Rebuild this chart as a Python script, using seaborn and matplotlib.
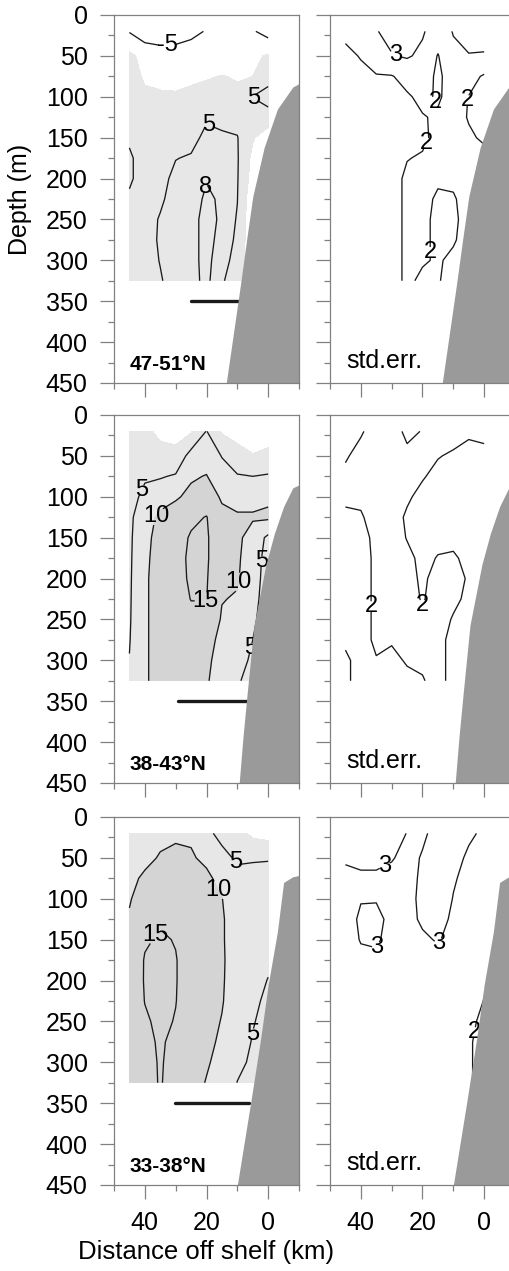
import numpy as np
import matplotlib
matplotlib.use("Agg")
import matplotlib.pyplot as plt
import seaborn as sns

sns.set_theme(style="white")
plt.rcParams["font.family"] = ["Liberation Sans", "DejaVu Sans"]
plt.rcParams["text.color"] = "black"
plt.rcParams["contour.negative_linestyle"] = "solid"

# ---------------- data ----------------
distance_km = [45, 40, 35, 30, 25, 20, 15, 10, 5, 0]
depth_m = [20, 50, 75, 100, 125, 150, 175, 200, 225, 250, 275, 300, 325]

# one list per distance column (45 km -> 0 km), values from 20 m down to 325 m
mean_47_51 = [
    [-5.3, 1, 2, 2.5, 3, 4.5, 5.5, 5.5, 4.5, 4, 3.5, 3, 3],
    [-8, -1.5, -0.6, 0.8, 2, 3, 3.5, 3.5, 4, 4, 4, 4, 4],
    [-9, -2, -1, 0.5, 2, 3, 3.5, 4, 4.6, 5.2, 5.3, 5.1, 4.8],
    [-9, -1.5, -0.8, 0.3, 2, 3.5, 4.9, 5.8, 6, 6, 6, 6, 6],
    [-7, -1, -0.5, 0.6, 3, 4, 5.3, 6, 6.5, 7, 7, 7, 7],
    [-4.5, -1.5, -0.2, 0.8, 4.6, 5.8, 7, 7.8, 8.6, 9, 9, 9, 8.8],
    [-3, -1.5, 0.1, 1, 3.5, 5.8, 6.5, 7, 7.5, 7.5, 7, 6, 5.3],
    [-3, -1, -0.2, 0.5, 3.5, 5.2, 5.4, 5.3, 5.1, 4.7, 4.3, 4, 3.5],
    [-4.5, -1, 0.0, 5.1, 3, 0.5, -1.2, -2, -3.5, -4, -4.3, -4.5, -4.5],
    [-7, 0.5, 3, 7, 3, -3, -6, -6, -4.5, -4, -4, -4, -4],
]
mean_38_43 = [
    [2, 2.5, 3, 3.5, 4, 4.2, 4.3, 4.4, 4.5, 4.6, 4.8, 5.1, 5.3],
    [1, 3, 4.5, 6, 8, 8.5, 8.8, 9, 9, 9, 9, 9, 9],
    [-1, 1.5, 4.6, 8, 11, 12, 12.5, 13, 13, 13, 13, 13, 13],
    [-1.5, 1.2, 5.5, 9.5, 12, 13, 13.5, 13.5, 13.5, 13.5, 13, 13, 13],
    [-0.5, 7, 9.5, 11, 14, 15.5, 15.8, 15.6, 15.1, 14, 13.5, 13, 12.5],
    [5.2, 8, 10.2, 12, 15.2, 15.5, 15.5, 15.3, 15.1, 14, 12, 11, 10.5],
    [-0.5, 4.8, 7, 9.5, 11, 12, 12, 11.5, 10.2, 9.5, 8.5, 8, 7.5],
    [-1, 1, 5.5, 8.5, 10.5, 11, 10.8, 10.5, 9.6, 8, 7, 6.5, 5.3],
    [-2, 0.2, 5, 8.5, 10.5, 8, 7, 6.5, 6, 5.5, 5, 4.3, 4],
    [-2, 1, 5.5, 9.2, 10.8, 4, 3.5, 3.5, 3.5, 3.5, 3.5, 3.5, 3.5],
]
mean_33_38 = [
    [5.5, 7, 8.5, 9.6, 10.5, 11, 11.5, 12, 12, 12, 12, 12, 12],
    [6, 8.5, 11, 12.5, 13.5, 14.5, 15.3, 15.3, 15.1, 14.5, 14, 13.5, 13.5],
    [8.5, 10.5, 12.5, 13.5, 14.5, 15.5, 16, 16, 16, 15.8, 15.5, 15.4, 15.3],
    [9.3, 11, 12.5, 13.5, 14, 14.8, 15.2, 15.2, 15.1, 14.8, 14, 13.5, 13.2],
    [9.3, 10.5, 12, 12.5, 13, 13, 13, 13, 13, 12.5, 12, 12, 11.5],
    [5.8, 9, 11, 12, 12, 12, 12, 12, 11.8, 11.5, 11, 10.4, 9.8],
    [4, 6, 8.5, 10.1, 10.4, 10.4, 10.5, 10.4, 10.3, 9.8, 9.3, 8.8, 8.5],
    [2, 4.5, 6, 7.5, 8, 8, 8, 8, 7.5, 7, 6.5, 6, 4.9],
    [-1.2, 4.7, 6, 7, 7, 7, 6.5, 6, 5.5, 5.2, 4.8, 4.3, 4],
    [-2, 4.8, 6, 6.5, 6.5, 6, 5.5, 4.9, 4.5, 4, 3.5, 3.5, 3.5],
]
stderr_47_51 = [
    [2.2, 1.8, 1.6, 1.5, 1.5, 1.5, 1.5, 1.5, 1.5, 1.5, 1.5, 1.5, 1.5],
    [2.6, 2.05, 1.8, 1.7, 1.6, 1.6, 1.6, 1.6, 1.6, 1.6, 1.6, 1.6, 1.6],
    [2.95, 2.4, 1.95, 1.7, 1.7, 1.7, 1.7, 1.7, 1.7, 1.7, 1.7, 1.7, 1.7],
    [3.3, 2.95, 1.95, 1.8, 1.8, 1.8, 1.8, 1.8, 1.8, 1.8, 1.8, 1.8, 1.8],
    [3.4, 3.1, 2.3, 1.9, 1.85, 1.85, 1.98, 2.1, 2.1, 2.1, 2.1, 2.1, 2.1],
    [3.1, 2.8, 2.5, 2.2, 1.95, 1.9, 2.05, 2.2, 2.2, 2.15, 2.1, 2.05, 1.9],
    [2.5, 1.95, 1.8, 1.9, 2.1, 2.15, 2.2, 2.1, 1.9, 1.85, 1.9, 1.95, 1.98],
    [3.05, 2.8, 2.5, 2.3, 2.3, 2.3, 2.2, 2.1, 1.95, 1.9, 1.95, 2.1, 2.1],
    [3.4, 2.95, 2.3, 1.98, 1.95, 2.1, 2.2, 2.2, 2.2, 2.2, 2.2, 2.2, 2.2],
    [3.5, 2.9, 1.9, 1.6, 1.6, 1.9, 2.2, 2.2, 2.2, 2.2, 2.2, 2.2, 2.2],
]
stderr_38_43 = [
    [1.8, 1.95, 2.1, 2.1, 1.9, 1.8, 1.8, 1.8, 1.8, 1.8, 1.9, 2.1, 2.1],
    [1.95, 2.15, 2.2, 2.1, 1.95, 1.8, 1.8, 1.8, 1.8, 1.8, 1.8, 1.8, 1.8],
    [2.2, 2.3, 2.3, 2.3, 2.2, 2.15, 2.1, 2.1, 2.1, 2.1, 2.1, 1.97, 1.9],
    [2.2, 2.3, 2.3, 2.25, 2.15, 2.2, 2.2, 2.2, 2.2, 2.15, 2.02, 1.95, 1.9],
    [1.9, 2.1, 2.15, 2.05, 1.95, 1.98, 2.1, 2.1, 2.1, 2.1, 2.05, 2.02, 1.95],
    [2.02, 2.1, 2.03, 1.9, 1.85, 1.85, 1.9, 1.95, 1.98, 2.05, 2.1, 2.05, 1.98],
    [2.2, 2.02, 1.9, 1.85, 1.85, 1.9, 2.02, 2.1, 2.1, 2.1, 2.1, 2.1, 2.1],
    [2.15, 1.95, 1.85, 1.85, 1.85, 1.9, 2.05, 2.1, 2.05, 1.98, 1.9, 1.9, 1.9],
    [2.05, 1.9, 1.85, 1.85, 1.85, 1.85, 1.9, 1.97, 1.95, 1.9, 1.9, 1.9, 1.9],
    [2.1, 1.9, 1.85, 1.85, 1.85, 1.85, 1.9, 1.9, 1.9, 1.9, 1.9, 1.9, 1.9],
]
stderr_33_38 = [
    [3.3, 3.1, 2.8, 2.7, 2.6, 2.6, 2.5, 2.5, 2.5, 2.5, 2.5, 2.5, 2.5],
    [3.4, 3.15, 2.9, 2.95, 3.15, 3.05, 2.8, 2.6, 2.6, 2.6, 2.6, 2.6, 2.6],
    [3.4, 3.15, 2.9, 2.95, 3.2, 3.1, 2.85, 2.6, 2.6, 2.6, 2.6, 2.6, 2.6],
    [3.3, 3.05, 2.8, 2.7, 2.8, 2.75, 2.7, 2.6, 2.6, 2.6, 2.6, 2.6, 2.6],
    [2.98, 2.8, 2.8, 2.8, 2.8, 2.75, 2.7, 2.6, 2.6, 2.6, 2.6, 2.6, 2.6],
    [2.9, 3.05, 3.1, 3.15, 3.1, 2.9, 2.7, 2.6, 2.6, 2.6, 2.6, 2.6, 2.6],
    [3.2, 3.25, 3.3, 3.3, 3.2, 3.05, 2.8, 2.6, 2.6, 2.6, 2.6, 2.6, 2.6],
    [3.15, 3.1, 3.05, 2.98, 2.9, 2.8, 2.7, 2.6, 2.6, 2.6, 2.6, 2.6, 2.6],
    [3.05, 2.95, 2.85, 2.8, 2.7, 2.6, 2.5, 2.4, 2.3, 2.2, 2.1, 2.1, 2.1],
    [2.95, 2.9, 2.8, 2.7, 2.6, 2.5, 2.3, 2.1, 1.98, 1.8, 1.7, 1.7, 1.7],
]

mean_levels = [[-5, 5, 8], [-5, 5, 10, 15], [-5, 5, 10, 15]]
stderr_levels = [2, 3]
fill_levels = [0, 10, 100]

# continental slope (shelf) outline per latitude band
shelf_km_47_51 = [-12, -8, -3, 1.3, 5, 7, 9, 11.3, 13.6]
shelf_depth_47_51 = [80, 88, 115, 162, 222, 275, 330, 390, 450]
shelf_km_38_43 = [-12, -8, -5, -2, 0.75, 4.6, 6.8, 8.2, 9.4]
shelf_depth_38_43 = [82, 89, 112, 145, 183, 257, 340, 395, 450]
shelf_km_33_38 = [-12, -8, -5, -3, 0, 2.4, 5.5, 10]
shelf_depth_33_38 = [70, 73, 80, 140, 205, 270, 345, 450]

bar_from_km = [25, 29.3, 30.3]
bar_to_km = [9.4, 6.8, 6.2]
bar_depth = [350, 350, 350]

band_labels = ["47-51\u00b0N", "38-43\u00b0N", "33-38\u00b0N"]

# contour label anchor points (km, m)
mean_label_pos = [
    [(32.6, 39), (19, 132), (5.6, 106), (20, 210)],
    [(41, 92), (36.9, 122), (14.5, 202), (20.4, 236), (2.6, 179), (5.9, 285)],
    [(12.4, 59), (15.9, 89), (36.3, 145), (4.8, 265)],
]
stderr_label_pos = [
    [(29.4, 51), (16, 106), (18.2, 157), (6.3, 104), (17, 290)],
    [(35.8, 234), (20, 236)],
    [(31.7, 63), (34.6, 159), (14.2, 155), (3.5, 263)],
]

means = [mean_47_51, mean_38_43, mean_33_38]
stderrs = [stderr_47_51, stderr_38_43, stderr_33_38]
shelves = [(shelf_km_47_51, shelf_depth_47_51),
           (shelf_km_38_43, shelf_depth_38_43),
           (shelf_km_33_38, shelf_depth_33_38)]

# ---------------- layout ----------------
W, H = 509, 1271
fig = plt.figure(figsize=(W / 100, H / 100), dpi=100)
fig.patch.set_facecolor("white")
col_left_px = [114, 330]
width_px = 185
row_top_px = [15, 415, 817]
height_px = 368

SPINE = "#808080"
FILL_COLORS = ["#e7e7e7", "#d4d4d4"]
SHELF_COLOR = "#9a9a9a"

X = np.array(distance_km)
Y = np.array(depth_m)


def upright(texts):
    for t in texts:
        t.set_rotation(0)
        t.set_color("black")


for r in range(3):
    for c in range(2):
        ax = fig.add_axes([col_left_px[c] / W,
                           1 - (row_top_px[r] + height_px) / H,
                           width_px / W, height_px / H])
        ax.set_facecolor("white")
        if c == 0:
            Z = np.array(means[r], dtype=float).T
            ax.contourf(X, Y, Z, levels=fill_levels, colors=FILL_COLORS, zorder=1)
            cs = ax.contour(X, Y, Z, levels=mean_levels[r], colors="k",
                            linewidths=0.95, linestyles="solid", zorder=2)
            upright(ax.clabel(cs, manual=mean_label_pos[r], fmt="%g", fontsize=17,
                              inline=True, inline_spacing=1, colors="k"))
            sns.lineplot(x=[bar_from_km[r], bar_to_km[r]], y=[bar_depth[r]] * 2,
                         ax=ax, color="k", linewidth=2.4, zorder=3, sort=False)
            ax.text(0.085, 0.035, band_labels[r], transform=ax.transAxes,
                    fontsize=15, fontweight="bold", color="black",
                    ha="left", va="baseline", zorder=6)
        else:
            Z = np.array(stderrs[r], dtype=float).T
            cs = ax.contour(X, Y, Z, levels=stderr_levels, colors="k",
                            linewidths=0.95, linestyles="solid", zorder=2)
            upright(ax.clabel(cs, manual=stderr_label_pos[r], fmt="%g", fontsize=17,
                              inline=True, inline_spacing=1, colors="k"))
            ax.text(0.09, 0.042, "std.err.", transform=ax.transAxes,
                    fontsize=18, color="black", ha="left", va="baseline", zorder=6)

        skm, sdp = shelves[r]
        ax.fill_betweenx(sdp, skm, -12, color=SHELF_COLOR, linewidth=0, zorder=4)

        ax.set_xlim(50, -10)
        ax.set_ylim(450, 0)
        ax.set_xticks([40, 20, 0])
        ax.set_xticks([50, 30, 10, -10], minor=True)
        ax.set_yticks(list(range(0, 451, 50)))
        ax.set_yticks(list(range(25, 451, 50)), minor=True)
        ax.set_xlabel("")
        ax.set_ylabel("")
        for s in ax.spines.values():
            s.set_visible(True)
            s.set_color(SPINE)
            s.set_linewidth(0.9)
            s.set_zorder(7)
        ax.tick_params(axis="both", which="both", direction="out", color=SPINE,
                       width=0.9, left=True, bottom=True, top=False, right=False,
                       labelsize=18, labelcolor="black")
        ax.tick_params(axis="both", which="major", length=10, pad=9)
        ax.tick_params(axis="both", which="minor", length=4)
        ax.tick_params(axis="y", labelleft=(c == 0))
        ax.tick_params(axis="x", labelbottom=(r == 2))
        ax.grid(False)
        if ax.get_legend() is not None:
            ax.get_legend().remove()

fig.text(0.039, 1 - 199 / H, "Depth (m)", rotation=90, ha="center", va="center",
         fontsize=18, color="black")
fig.text(206 / W, 1 - 1259 / H, "Distance off shelf (km)", ha="center",
         va="baseline", fontsize=18.5, color="black")

fig.savefig("out.png", dpi=100, facecolor="white")
